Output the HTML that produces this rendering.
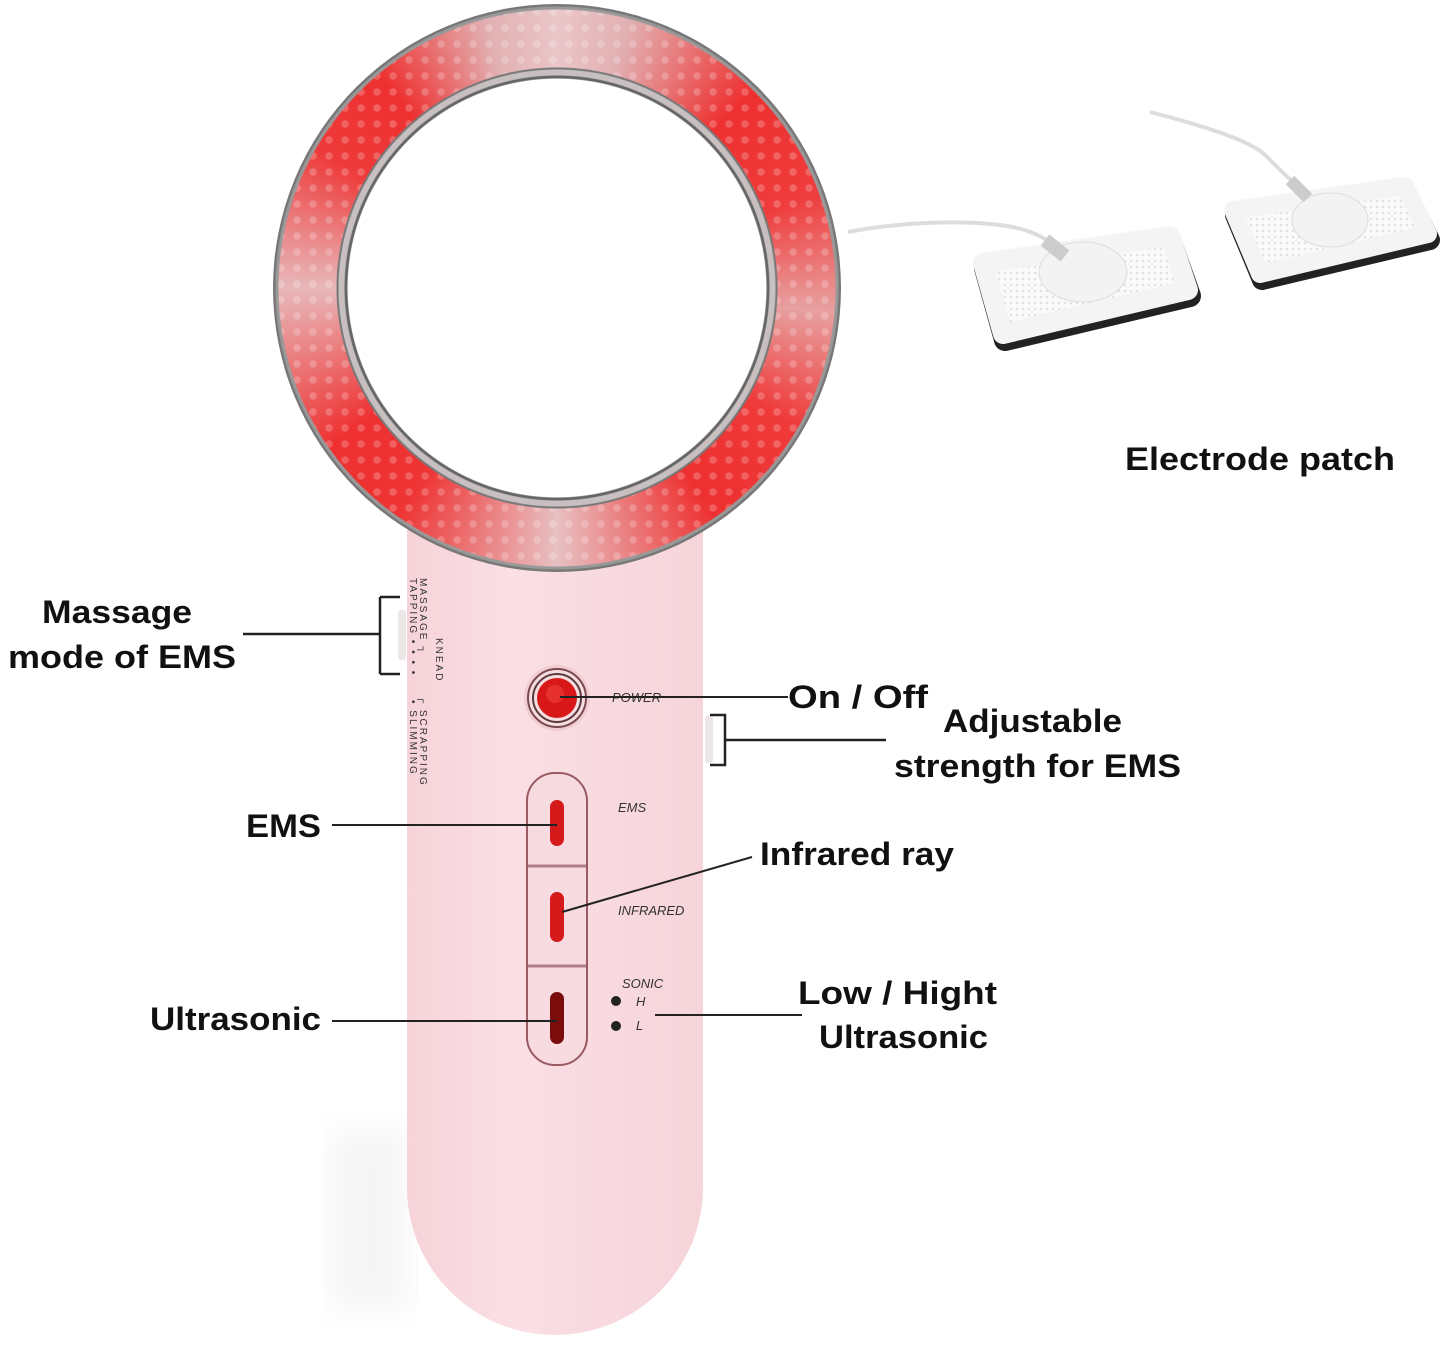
<!DOCTYPE html>
<html><head><meta charset="utf-8"><style>
html,body{margin:0;padding:0;background:#fff;}
svg{display:block;position:absolute;left:0;top:0;}
text{font-family:"Liberation Sans",sans-serif;}
.lb{font-size:32px;font-weight:bold;fill:#111;}
.sm{font-size:13px;font-style:italic;fill:#333;}
#ring{position:absolute;left:273px;top:4px;width:568px;height:568px;border-radius:50%;
background:
radial-gradient(circle closest-side,#fff 0 209px,#666 210px 212px,#c8c0c0 213px 218px,#777 219px 220px,transparent 221px 278px,#999 279px 281px,#777 282px),
radial-gradient(circle,rgba(255,255,255,0.22) 0 3.5px,transparent 4px) 0 0/16px 16px,
conic-gradient(from 0deg,#eac6c8 0deg,#e2b0b2 15deg,#ee3030 45deg,#ef3c3c 70deg,#e8a0a0 95deg,#ef3a3a 120deg,#ee3030 145deg,#e8c0c2 180deg,#ee3434 215deg,#ee3030 235deg,#e8b8ba 270deg,#ee3a3a 300deg,#ee3030 320deg,#e2b0b2 345deg,#eac6c8 360deg);}
</style></head><body>
<svg width="1445" height="1347" viewBox="0 0 1445 1347" xmlns="http://www.w3.org/2000/svg">
<defs>
<linearGradient id="hand" x1="0" x2="1">
<stop offset="0" stop-color="#f6d3d9"/><stop offset="0.35" stop-color="#fadfe4"/><stop offset="1" stop-color="#f6d4da"/>
</linearGradient>
<pattern id="mesh" width="6" height="6" patternUnits="userSpaceOnUse">
<rect width="6" height="6" fill="#fafafa"/><circle cx="3" cy="3" r="1.3" fill="#e2e2e2"/>
</pattern>
<filter id="blur"><feGaussianBlur stdDeviation="14"/></filter>
</defs>
<rect x="330" y="1130" width="80" height="180" fill="#e8e8e8" filter="url(#blur)" opacity="0.4"/>
<path d="M407 530 L703 530 L703 1187 A148 148 0 0 1 407 1187 Z" fill="url(#hand)"/>
<g transform="translate(420,578) rotate(90)">
<text class="sm" style="font-size:10px;font-style:normal;letter-spacing:2px" x="0" y="0">MASSAGE ┐</text>
<text class="sm" style="font-size:10px;font-style:normal;letter-spacing:2px" x="0" y="10">TAPPING •   •   •   •</text>
<text class="sm" style="font-size:10px;font-style:normal;letter-spacing:2px" x="60" y="-16">KNEAD</text>
<text class="sm" style="font-size:10px;font-style:normal;letter-spacing:2px" x="118" y="0">┌ SCRAPPING</text>
<text class="sm" style="font-size:10px;font-style:normal;letter-spacing:2px" x="122" y="10">• SLIMMING</text>
</g>
<rect x="398" y="610" width="8" height="50" fill="#ece6e6" rx="3"/>
<rect x="705" y="715" width="8" height="48" fill="#ece6e6" rx="3"/>
<circle cx="557" cy="698" r="33" fill="#f0cdd2"/>
<circle cx="557" cy="698" r="29" fill="#f6dde1" stroke="#7a4a50" stroke-width="2"/>
<circle cx="557" cy="698" r="24" fill="none" stroke="#5a3a3e" stroke-width="2"/>
<circle cx="557" cy="698" r="20" fill="#d81818"/>
<circle cx="555" cy="694" r="9" fill="#f04040" opacity="0.6"/>
<text class="sm" x="612" y="702">POWER</text>
<rect x="527" y="773" width="60" height="292" rx="28" fill="#f8dbe0" stroke="#9a5a62" stroke-width="2"/>
<line x1="528" y1="866" x2="586" y2="866" stroke="#b08088" stroke-width="3"/>
<line x1="528" y1="966" x2="586" y2="966" stroke="#b08088" stroke-width="3"/>
<rect x="550" y="800" width="14" height="46" rx="7" fill="#d41a1a"/>
<rect x="550" y="892" width="14" height="50" rx="7" fill="#d41a1a"/>
<rect x="550" y="992" width="14" height="52" rx="7" fill="#7a0c0c"/>
<text class="sm" x="618" y="812">EMS</text>
<text class="sm" x="618" y="915">INFRARED</text>
<text class="sm" x="622" y="988">SONIC</text>
<text class="sm" x="636" y="1006">H</text>
<text class="sm" x="636" y="1030">L</text>
<circle cx="616" cy="1001" r="5" fill="#222"/>
<circle cx="616" cy="1026" r="5" fill="#222"/>
<!-- cables -->
<path d="M848 232 C900 222 960 220 1000 225 C1025 228 1040 235 1055 245" stroke="#ddd" stroke-width="4" fill="none"/>
<path d="M1150 112 C1200 125 1250 140 1265 155 C1285 175 1295 185 1310 195" stroke="#ddd" stroke-width="4" fill="none"/>
<!-- patch 1 -->
<polygon points="985,268 1170,240 1190,296 1005,340" fill="#222" stroke="#222" stroke-width="22" stroke-linejoin="round"/>
<polygon points="983,263 1170,236 1188,290 1003,334" fill="url(#mesh)" stroke="#f4f4f4" stroke-width="20" stroke-linejoin="round"/>
<ellipse cx="1083" cy="272" rx="44" ry="30" fill="#f3f3f3" stroke="#ddd"/>
<path d="M1045 240 L1065 256" stroke="#ccc" stroke-width="14"/>
<!-- patch 2 -->
<polygon points="1235,215 1405,190 1430,240 1262,280" fill="#222" stroke="#222" stroke-width="20" stroke-linejoin="round"/>
<polygon points="1233,210 1405,186 1428,234 1260,274" fill="url(#mesh)" stroke="#f4f4f4" stroke-width="18" stroke-linejoin="round"/>
<ellipse cx="1330" cy="220" rx="38" ry="27" fill="#f3f3f3" stroke="#ddd"/>
<path d="M1290 180 L1308 198" stroke="#ccc" stroke-width="12"/>
<!-- labels -->
<text class="lb" x="1125" y="470" textLength="270" lengthAdjust="spacingAndGlyphs">Electrode patch</text>
<text class="lb" x="42" y="623" textLength="150" lengthAdjust="spacingAndGlyphs">Massage</text>
<text class="lb" x="8" y="668" textLength="228" lengthAdjust="spacingAndGlyphs">mode of EMS</text>
<path d="M243 634 H380 M380 597 V674 M380 597 H400 M380 674 H400" stroke="#222" stroke-width="2.5" fill="none"/>
<text class="lb" x="788" y="708" textLength="140" lengthAdjust="spacingAndGlyphs">On / Off</text>
<line x1="560" y1="697" x2="788" y2="697" stroke="#222" stroke-width="2"/>
<text class="lb" x="943" y="732" textLength="179" lengthAdjust="spacingAndGlyphs">Adjustable</text>
<text class="lb" x="894" y="777" textLength="287" lengthAdjust="spacingAndGlyphs">strength for EMS</text>
<path d="M710 715 H725 V765 H710 M725 740 H886" stroke="#222" stroke-width="2.5" fill="none"/>
<text class="lb" x="246" y="837" textLength="75" lengthAdjust="spacingAndGlyphs">EMS</text>
<line x1="332" y1="825" x2="557" y2="825" stroke="#222" stroke-width="2"/>
<text class="lb" x="760" y="865" textLength="194" lengthAdjust="spacingAndGlyphs">Infrared ray</text>
<line x1="562" y1="912" x2="752" y2="857" stroke="#222" stroke-width="2"/>
<text class="lb" x="150" y="1030" textLength="171" lengthAdjust="spacingAndGlyphs">Ultrasonic</text>
<line x1="332" y1="1021" x2="557" y2="1021" stroke="#222" stroke-width="2"/>
<text class="lb" x="798" y="1004" textLength="199" lengthAdjust="spacingAndGlyphs">Low / Hight</text>
<text class="lb" x="819" y="1048" textLength="169" lengthAdjust="spacingAndGlyphs">Ultrasonic</text>
<line x1="655" y1="1015" x2="802" y2="1015" stroke="#222" stroke-width="2"/>
</svg>
<div id="ring"></div>
</body></html>
